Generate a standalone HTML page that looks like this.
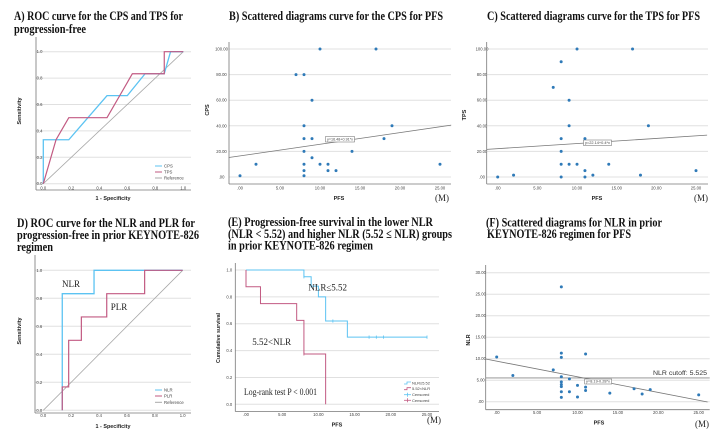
<!DOCTYPE html>
<html><head><meta charset="utf-8"><style>
html,body{margin:0;padding:0;background:#fff;width:728px;height:436px;overflow:hidden}
svg{display:block}
</style></head><body>
<svg id="fig" width="728" height="436" viewBox="0 0 728 436" xmlns="http://www.w3.org/2000/svg"></svg>
<script>
// ---- Panel A data (ROC CPS / TPS)
const rocCpsX=[0,0,0.182,0.455,0.6,0.727,0.864,0.909,1];
const rocCpsY=[0,0.333,0.333,0.667,0.667,0.833,0.833,1,1];
const rocTpsX=[0,0.091,0.182,0.455,0.636,0.864,0.864,1];
const rocTpsY=[0,0.333,0.5,0.5,0.833,0.833,1,1];
const rocTicks=[0,0.2,0.4,0.6,0.8,1.0];
const rocTickLabels=["0.0","0.2","0.4","0.6","0.8","1.0"];
// ---- Panel B data (CPS vs PFS)
const cpsPfs=[0,2,7,8,10,17,9,8,8,9,8,9,8,10,11,8,11,12,8,14,18,19,25];
const cpsVal=[1,10,80,80,100,100,60,40,30,30,20,15,10,10,10,5,5,5,1,20,30,40,10];
const cpsFit=[16.48,0.91];
const pctTicks=[0,20,40,60,80,100];
const pctTickLabels=[".00","20.00","40.00","60.00","80.00","100.00"];
const pfsTicks=[0,5,10,15,20,25];
const pfsTickLabels=[".00","5.00","10.00","15.00","20.00","25.00"];
// ---- Panel C data (TPS vs PFS)
const tpsPfs=[0,2,8,7,10,17,9,9,8,11,8,8,9,10,14,11,8,11,12,18,19,25];
const tpsVal=[0,1.5,90,70,100,100,60,40,30,30,20,10,10,10,10,5,0,0,1.5,1.5,40,5];
const tpsFit=[22.14,0.4];
// ---- Panel D data (ROC NLR / PLR)
const rocNlrX=[0.136,0.136,0.364,0.364,1];
const rocNlrY=[0,0.833,0.833,1,1];
const rocPlrX=[0.136,0.136,0.182,0.182,0.273,0.273,0.455,0.455,0.727,0.727,1];
const rocPlrY=[0,0.167,0.167,0.5,0.5,0.667,0.667,0.833,0.833,1,1];
// ---- Panel E data (Kaplan-Meier)
const kmLowT=[0,8,9,10,11,14,25];
const kmLowS=[1,0.95,0.88,0.8,0.62,0.5,0.5];
const kmLowCens=[8,9,12,17,18,19,25];
const kmHighT=[0,0,2,7,8,11];
const kmHighS=[1,0.875,0.75,0.625,0.375,0];
const kmHighCens=[8];
// ---- Panel F data (NLR vs PFS)
const nlrPfs=[0,2,8,8,8,7,11,9,8,8,8,8,8,8,9,10,10,11,11,14,17,18,19,25];
const nlrVal=[10.4,6.1,26.7,11.3,10.3,7.4,11.1,5.3,5.8,4.6,4.0,3.5,2.3,1.0,2.3,3.8,1.1,3.4,2.6,2.0,3.0,1.8,2.8,1.6];
const nlrFit=[9.43,-0.364];
const nlrCutoff=[5.525];
const nlrTicks=[0,5,10,15,20,25,30];
const nlrTickLabels=[".00","5.00","10.00","15.00","20.00","25.00","30.00"];

const NS='http://www.w3.org/2000/svg';
const svg=document.getElementById('fig');
function mk(tag,attrs,parent){const e=document.createElementNS(NS,tag);for(const k in attrs)e.setAttribute(k,attrs[k]);(parent||svg).appendChild(e);return e;}
function lin(d0,d1,r0,r1){return v=>r0+(v-d0)*(r1-r0)/(d1-d0);}
function txt(x,y,s,o,parent){o=o||{};const a={x:x,y:y,'font-family':o.fam||'"Liberation Sans",sans-serif','font-size':o.size||5,fill:o.fill||'#333','text-anchor':o.anchor||'middle'};
 if(o.bold)a['font-weight']='bold';if(o.len){a.textLength=o.len;a.lengthAdjust='spacingAndGlyphs';}
 if(o.rot)a.transform='rotate(-90 '+x+' '+y+')';const t=mk('text',a,parent);t.textContent=s;return t;}
const SERIF='"Liberation Serif","DejaVu Serif",serif';
function title(x,y,s,len,g){return txt(x,y,s,{fam:SERIF,size:12.5,bold:true,fill:'#111',anchor:'start',len:len},g);}
function group(name){const g=mk('g',{});return g;}

// generic axes frame
function frame(g,ax){
 // grid
 ax.yt.forEach((v,i)=>{const y=ax.ys(v);
  const gl=mk('line',{x1:ax.left,x2:ax.right,y1:y,y2:y,stroke:'#e0e0e0','stroke-width':1},g);
  
  
  const tl=txt(ax.ytx,y+1.5,ax.ytl[i],{size:4.2,fill:'#444'},g);
  
  });
 ax.xt.forEach((v,i)=>{const tl=txt(ax.xs(v),ax.xty,ax.xtl[i],{size:4.2,fill:'#444'},g);
  
  });
 const ya=mk('line',{x1:ax.left,x2:ax.left,y1:ax.top,y2:ax.bottom,stroke:'#777','stroke-width':0.8},g);
 
 
 const xa=mk('line',{x1:ax.left,x2:ax.right,y1:ax.bottom,y2:ax.bottom,stroke:'#777','stroke-width':0.8},g);
 
 
}
function poly(g,xs,ys,X,Y,color,w){let d='';X.forEach((v,i)=>{d+=(i?'L':'M')+xs(v).toFixed(2)+','+ys(Y[i]).toFixed(2);});
 return mk('path',{d:d,fill:'none',stroke:color,'stroke-width':w||1.2},g);}
function dots(g,xs,ys,X,Y){X.forEach((v,i)=>{const c=mk('circle',{cx:xs(v),cy:ys(Y[i]),r:1.5,fill:'#2f7ab8'},g);
 
 });}
const BLUE='#5cc3f2',PINK='#c25a82',REF='#a8a8a8';

// ================= Panel A
(function(){const g=group('panel-a-roc-cps-tps');
 title(14,20,'A) ROC curve for the CPS and TPS for',169,g);
 title(14,33,'progression-free',72,g);
 const xs=lin(0,1,43.3,183.3),ys=lin(0,1,183.7,51.7);
 frame(g,{left:36,right:191,top:37,bottom:190,ys:ys,xs:xs,yt:rocTicks,ytl:rocTickLabels,ytx:39.5,xt:rocTicks,xtl:rocTickLabels,xty:189.5});
 const r=poly(g,xs,ys,[0,1],[0,1],REF,0.8);
 const a=poly(g,xs,ys,rocCpsX,rocCpsY,BLUE,1.3);
 const b=poly(g,xs,ys,rocTpsX,rocTpsY,PINK,1.2);
 const yl=txt(21,111,'Sensitivity',{size:5.5,bold:true,rot:true,fill:'#222',len:27},g);
 const xl=txt(113,200,'1 - Specificity',{size:5.5,bold:true,fill:'#222',len:35},g);
 [['CPS',BLUE,166],['TPS',PINK,172],['Reference',REF,178]].forEach(l=>{const lg=mk('g',{},g);
  
  mk('line',{x1:155,x2:162,y1:l[2],y2:l[2],stroke:l[1],'stroke-width':1},lg);txt(164,l[2]+1.5,l[0],{size:4.3,anchor:'start',fill:'#444'},lg);});
})();

// ================= Panel B
(function(){const g=group('panel-b-cps-scatter');
 title(229,20,'B) Scattered diagrams curve for the CPS for PFS',214,g);
 const xs=lin(0,25,240,440),ys=lin(0,100,177,49);
 frame(g,{left:229,right:451,top:42,bottom:184,ys:ys,xs:xs,yt:pctTicks,ytl:pctTickLabels,ytx:221.5,xt:pfsTicks,xtl:pfsTickLabels,xty:189.5});
 const fl=poly(g,xs,ys,[-1.4,26.4],[cpsFit[0]+cpsFit[1]*-1.4,cpsFit[0]+cpsFit[1]*26.4],'#777',0.8);
 const bx=mk('rect',{x:325.5,y:136.5,width:29,height:5.5,fill:'#fff',stroke:'#666','stroke-width':0.5},g);
 txt(340,140.5,'y=16.48+0.91*x',{size:3.6,fill:'#444',len:26},g);
 dots(g,xs,ys,cpsPfs,cpsVal);
 const yl=txt(209,110,'CPS',{size:5.5,bold:true,rot:true,fill:'#222'},g);
 const xl=txt(339,200,'PFS',{size:5.5,bold:true,fill:'#222'},g);
 const m=txt(442,201,'(M)',{fam:SERIF,size:9,fill:'#222'},g);
})();

// ================= Panel C
(function(){const g=group('panel-c-tps-scatter');
 title(487,20,'C) Scattered diagrams curve for the TPS for PFS',213,g);
 const xs=lin(0,25,497.7,696),ys=lin(0,100,177,49);
 frame(g,{left:486.7,right:708,top:42,bottom:184,ys:ys,xs:xs,yt:pctTicks,ytl:pctTickLabels,ytx:482,xt:pfsTicks,xtl:pfsTickLabels,xty:189.5});
 const fl=poly(g,xs,ys,[-1.4,26.4],[tpsFit[0]+tpsFit[1]*-1.4,tpsFit[0]+tpsFit[1]*26.4],'#777',0.8);
 const bx=mk('rect',{x:583.5,y:140,width:28,height:5.5,fill:'#fff',stroke:'#666','stroke-width':0.5},g);
 txt(597.5,144,'y=22.14+0.4*x',{size:3.6,fill:'#444',len:25},g);
 dots(g,xs,ys,tpsPfs,tpsVal);
 const yl=txt(466,115,'TPS',{size:5.5,bold:true,rot:true,fill:'#222'},g);
 const xl=txt(597,200,'PFS',{size:5.5,bold:true,fill:'#222'},g);
 const m=txt(701,201,'(M)',{fam:SERIF,size:9,fill:'#222'},g);
})();

// ================= Panel D
(function(){const g=group('panel-d-roc-nlr-plr');
 title(17,227,'D) ROC curve for the NLR and PLR for',178,g);
 title(17,239,'progression-free in prior KEYNOTE-826',182,g);
 title(17,251,'regimen',36,g);
 const xs=lin(0,1,43.3,182.7),ys=lin(0,1,410.3,270.3);
 frame(g,{left:35,right:191,top:255,bottom:413,ys:ys,xs:xs,yt:rocTicks,ytl:rocTickLabels,ytx:39.3,xt:rocTicks,xtl:rocTickLabels,xty:417});
 const r=poly(g,xs,ys,[0,1],[0,1],REF,0.8);
 const a=poly(g,xs,ys,rocNlrX,rocNlrY,BLUE,1.3);
 const b=poly(g,xs,ys,rocPlrX,rocPlrY,PINK,1.2);
 const n=txt(71,287,'NLR',{fam:SERIF,size:9,fill:'#222'},g);
 const p=txt(119,310,'PLR',{fam:SERIF,size:9,fill:'#222'},g);
 const yl=txt(21,331,'Sensitivity',{size:5.5,bold:true,rot:true,fill:'#222',len:27},g);
 const xl=txt(113,428,'1 - Specificity',{size:5.5,bold:true,fill:'#222',len:35},g);
 [['NLR',BLUE,390],['PLR',PINK,396],['Reference',REF,402.3]].forEach(l=>{const lg=mk('g',{},g);
  
  mk('line',{x1:155,x2:162,y1:l[2],y2:l[2],stroke:l[1],'stroke-width':1},lg);txt(164,l[2]+1.5,l[0],{size:4.3,anchor:'start',fill:'#444'},lg);});
})();

// ================= Panel E
(function(){const g=group('panel-e-km-survival');
 title(228,226,'(E) Progression-free survival in the lower NLR',205,g);
 title(228,238,'(NLR < 5.52) and higher NLR (5.52 \u2264 NLR) groups',224,g);
 title(228,249.5,'in prior KEYNOTE-826 regimen',145,g);
 const xs=lin(0,25,246,427),ys=lin(0,1,404.3,270);
 frame(g,{left:235.3,right:439,top:263,bottom:411.5,ys:ys,xs:xs,yt:rocTicks,ytl:rocTickLabels,ytx:229.3,xt:pfsTicks,xtl:pfsTickLabels,xty:416});
 function step(T,S,end){let d='M'+xs(T[0])+','+ys(S[0]);for(let i=1;i<T.length;i++){d+='H'+xs(T[i]).toFixed(2)+'V'+ys(S[i]).toFixed(2);}if(end!=null)d+='H'+xs(end);return d;}
 function sAt(T,S,t){let s=S[0];for(let i=0;i<T.length;i++)if(T[i]<=t)s=S[i];return s;}
 const lo=mk('path',{d:step(kmLowT,kmLowS,25),fill:'none',stroke:BLUE,'stroke-width':1},g);
 const hi=mk('path',{d:step(kmHighT,kmHighS,null),fill:'none',stroke:PINK,'stroke-width':1},g);
 kmLowCens.forEach(t=>{const x=xs(t),y=ys(sAt(kmLowT,kmLowS,t));const c=mk('path',{d:'M'+x+','+(y-1.6)+'V'+(y+1.6),stroke:BLUE,'stroke-width':0.8},g);});
 kmHighCens.forEach(t=>{const x=xs(t),y=ys(sAt(kmHighT,kmHighS,t));const c=mk('path',{d:'M'+x+','+(y-1.6)+'V'+(y+1.6),stroke:PINK,'stroke-width':0.8},g);});
 const l1=txt(327.7,290.5,'NLR\u22645.52',{fam:SERIF,size:9,fill:'#222'},g);
 const l2=txt(271.7,345,'5.52<NLR',{fam:SERIF,size:9,fill:'#222'},g);
 const lr=txt(244,395,'Log-rank test P < 0.001',{fam:SERIF,size:9,fill:'#222',anchor:'start',len:73},g);
 [['NLR\u22645.52',BLUE,383,false],['5.52<NLR',PINK,388.7,false],['Censored',BLUE,394.7,true],['Censored',PINK,400.3,true]].forEach(l=>{const lg=mk('g',{},g);
  
  if(l[3]){mk('line',{x1:404,x2:411,y1:l[2],y2:l[2],stroke:l[1],'stroke-width':0.8},lg);mk('line',{x1:407.5,x2:407.5,y1:l[2]-2,y2:l[2]+2,stroke:l[1],'stroke-width':0.8},lg);}
  else mk('path',{d:'M404,'+(l[2]+1)+'H407V'+(l[2]-1)+'H411',fill:'none',stroke:l[1],'stroke-width':0.8},lg);
  txt(412,l[2]+1.5,l[0],{size:4,anchor:'start',fill:'#444'},lg);});
 const yl=txt(220,338,'Cumulative survival',{size:5.5,bold:true,rot:true,fill:'#222',len:50},g);
 const xl=txt(337,426.5,'PFS',{size:5.5,bold:true,fill:'#222'},g);
 const m=txt(434,423,'(M)',{fam:SERIF,size:9,fill:'#222'},g);
})();

// ================= Panel F
(function(){const g=group('panel-f-nlr-scatter');
 title(486,226.5,'(F) Scattered diagrams for NLR in prior',176,g);
 title(487,238,'KEYNOTE-826 regimen for PFS',144,g);
 const xs=lin(0,25,496.7,698.7),ys=lin(0,30,401.7,272.7);
 frame(g,{left:485.7,right:709.7,top:265,bottom:409.7,ys:ys,xs:xs,yt:nlrTicks,ytl:nlrTickLabels,ytx:480.7,xt:pfsTicks,xtl:pfsTickLabels,xty:414});
 const cl=mk('line',{x1:485.7,x2:709.7,y1:ys(nlrCutoff[0]),y2:ys(nlrCutoff[0]),stroke:'#888','stroke-width':0.9},g);
 const ct=txt(707,375,'NLR cutoff: 5.525',{size:6,fill:'#333',anchor:'end',len:54},g);
 const fl=poly(g,xs,ys,[-1.36,26.1],[nlrFit[0]+nlrFit[1]*-1.36,nlrFit[0]+nlrFit[1]*26.1],'#777',0.8);
 const bx=mk('rect',{x:584.7,y:379,width:27,height:5,fill:'#fff',stroke:'#666','stroke-width':0.5},g);
 txt(598,382.7,'y=8.19-0.28*x',{size:3.5,fill:'#444',len:24},g);
 dots(g,xs,ys,nlrPfs,nlrVal);
 const yl=txt(470,340,'NLR',{size:5.5,bold:true,rot:true,fill:'#222'},g);
 const xl=txt(599,424.5,'PFS',{size:5.5,bold:true,fill:'#222'},g);
 const m=txt(702,427,'(M)',{fam:SERIF,size:9,fill:'#222'},g);
})();
</script>
</body></html>
